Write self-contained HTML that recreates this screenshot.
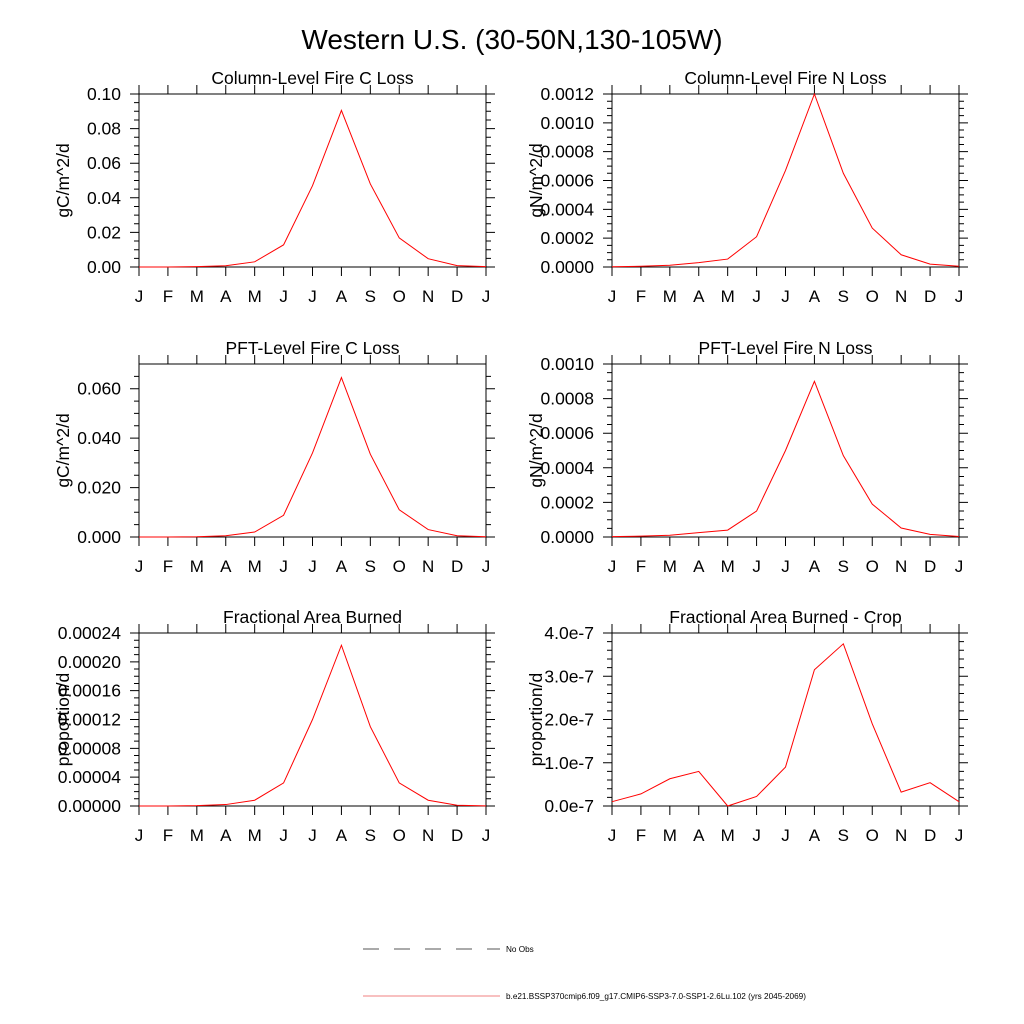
<!DOCTYPE html>
<html><head><meta charset="utf-8"><style>
body{margin:0;background:#fff}
svg{display:block;font-family:"Liberation Sans",sans-serif}
</style></head><body>
<svg id="c" width="1024" height="1024" viewBox="0 0 1024 1024">
<text x="512" y="49" font-size="28" text-anchor="middle">Western U.S. (30-50N,130-105W)</text>
<g>
<line x1="363" y1="949" x2="500" y2="949" stroke="#555" stroke-dasharray="16,15"/>
<text x="506" y="952" font-size="8.2">No Obs</text>
<line x1="363" y1="996" x2="500" y2="996" stroke="#f08080"/>
<text x="506" y="999" font-size="8.2">b.e21.BSSP370cmip6.f09_g17.CMIP6-SSP3-7.0-SSP1-2.6Lu.102 (yrs 2045-2069)</text>
</g>
</svg>
<script>
const months=["J","F","M","A","M","J","J","A","S","O","N","D","J"];
const colC=[0,0,0.0002,0.0007,0.003,0.0128,0.047,0.0905,0.048,0.0168,0.0048,0.0008,0.0002];
const colN=[0.000002,0.000005,0.000012,0.00003,0.000055,0.00021,0.00067,0.0012,0.00065,0.00027,0.000085,0.00002,0.000005];
const pftC=[0,0,0.0001,0.0005,0.002,0.0088,0.034,0.0645,0.0335,0.011,0.003,0.0005,0.0001];
const pftN=[0.000002,0.000005,0.00001,0.000025,0.00004,0.00015,0.0005,0.0009,0.00047,0.00019,0.000052,0.000015,0.000003];
const farea=[0,0,0.0000005,0.000002,0.000008,0.000032,0.00012,0.000223,0.00011,0.000032,0.000008,0.000001,0.0000002];
const fcrop=[0.1e-7,0.28e-7,0.63e-7,0.8e-7,0,0.22e-7,0.9e-7,3.15e-7,3.75e-7,1.9e-7,0.32e-7,0.54e-7,0.1e-7];
const ticksColC=["0.00","0.02","0.04","0.06","0.08","0.10"];
const ticksColN=["0.0000","0.0002","0.0004","0.0006","0.0008","0.0010","0.0012"];
const ticksPftC=["0.000","0.020","0.040","0.060"];
const ticksPftN=["0.0000","0.0002","0.0004","0.0006","0.0008","0.0010"];
const ticksArea=["0.00000","0.00004","0.00008","0.00012","0.00016","0.00020","0.00024"];
const ticksCrop=["0.0e-7","1.0e-7","2.0e-7","3.0e-7","4.0e-7"];
const NS="http://www.w3.org/2000/svg";
const svg=document.getElementById('c');
function mk(t,a,p){const e=document.createElementNS(NS,t);for(const k in a)e.setAttribute(k,a[k]);(p||svg).appendChild(e);return e;}
function panel(id,x0,y0,title,ylab,data,ticks,step,ymax,minorN){
  const W=347,H=173;
  const g=mk('g',{});
  
  
  const xs=i=>x0+i*W/12, ys=v=>y0+H-v/ymax*H;
  const tt=mk('text',{x:x0+W/2,y:y0-10,'font-size':17.5,'text-anchor':'middle'},g);tt.textContent=title;
  
  
  const yl=mk('text',{transform:`translate(${x0-70},${y0+H/2}) rotate(-90)`,'font-size':17.5,'text-anchor':'middle'},g);yl.textContent=ylab;
  
  
  let d='';
  months.forEach((m,i)=>{const x=xs(i);d+=`M${x} ${y0}v-9M${x} ${y0+H}v9`;
    const t=mk('text',{x:x,y:y0+H+35,'font-size':17,'text-anchor':'middle'},g);t.textContent=m;
    
    });
  ticks.forEach((lab,i)=>{const v=i*step,y=ys(v);d+=`M${x0} ${y}h-9M${x0+W} ${y}h9`;
    for(let k=1;k<=minorN;k++){const vv=v+k*step/(minorN+1);if(vv<ymax-1e-15){const yy=ys(vv);d+=`M${x0} ${yy}h-5M${x0+W} ${yy}h5`;}}
    const t=mk('text',{x:x0-18,y:y+6,'font-size':17.5,'text-anchor':'end'},g);t.textContent=lab;
    
    });
  const tk=mk('path',{d:d,stroke:'#000','stroke-width':1,fill:'none'},g);
  
  
  const r=mk('rect',{x:x0,y:y0,width:W,height:H,fill:'none',stroke:'#000','stroke-width':1},g);
  
  
  const pl=mk('polyline',{points:data.map((v,i)=>xs(i)+','+ys(v)).join(' '),fill:'none',stroke:'#f00','stroke-width':1},g);
  
  
}
panel('column-c',139,94,'Column-Level Fire C Loss','gC/m^2/d',colC,ticksColC,0.02,0.10,3);
panel('column-n',612,94,'Column-Level Fire N Loss','gN/m^2/d',colN,ticksColN,0.0002,0.0012,3);
panel('pft-c',139,364,'PFT-Level Fire C Loss','gC/m^2/d',pftC,ticksPftC,0.02,0.07,3);
panel('pft-n',612,364,'PFT-Level Fire N Loss','gN/m^2/d',pftN,ticksPftN,0.0002,0.0010,3);
panel('area',139,633,'Fractional Area Burned','proportion/d',farea,ticksArea,0.00004,0.00024,3);
panel('crop',612,633,'Fractional Area Burned - Crop','proportion/d',fcrop,ticksCrop,1e-7,4e-7,4);
</script>
</body></html>
